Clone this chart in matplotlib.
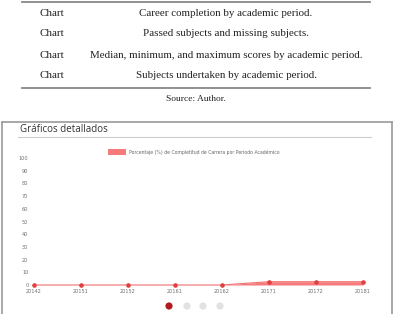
import matplotlib.pyplot as plt
from matplotlib.patches import Rectangle, Circle

# table content
row_kind = ['Chart', 'Chart', 'Chart', 'Chart']
row_desc = ['Career completion by academic period.',
            'Passed subjects and missing subjects.',
            'Median, minimum, and maximum scores by academic period.',
            'Subjects undertaken by academic period.']
source_text = 'Source: Author.'

# chart content
periods = ['20142', '20151', '20152', '20161', '20162', '20171', '20172', '20181']
completion = [0, 0, 0, 0, 0, 2.6, 2.6, 2.6]
legend_label = 'Porcentaje (%) de Completitud de Carrera por Periodo Académico'
panel_title = 'Gráficos detallados'

W, H = 393, 314
fig = plt.figure(figsize=(W / 100, H / 100), dpi=100)

# background axes in pixel coordinates for the page layout
bg = fig.add_axes([0, 0, 1, 1])
bg.set_xlim(0, W)
bg.set_ylim(H, 0)
bg.axis('off')

serif = 'Liberation Serif'
bg.plot([22, 370], [2, 2], color='#888888', lw=1.3)
bg.plot([22, 370], [88, 88], color='#888888', lw=1.3)
row_y = [14, 34, 55, 75]
for y, k, d in zip(row_y, row_kind, row_desc):
    bg.text(52, y, k, family=serif, fontsize=7.9, ha='center', va='center', color='#222222')
    bg.text(226, y, d, family=serif, fontsize=7.9, ha='center', va='center', color='#222222')
bg.text(196, 99, source_text, family=serif, fontsize=6.8, ha='center', va='center', color='#222222')

# screenshot frame
bg.plot([2, 2], [314, 122], color='#9a9a9a', lw=1.2)
bg.plot([2, 392], [122, 122], color='#9a9a9a', lw=1.2)
bg.plot([392, 392], [122, 314], color='#9a9a9a', lw=1.2)
bg.text(20, 129, panel_title, family='Open Sans', fontsize=7.0, ha='left', va='center', color='#333333')
bg.plot([18, 371], [137, 137], color='#cccccc', lw=0.8)

# legend
bg.add_patch(Rectangle((108, 149), 18, 6, facecolor='#f77b7b', edgecolor='none'))
bg.text(129, 152, legend_label, family='DejaVu Sans', fontsize=3.3, ha='left', va='center', color='#666666')

# pagination dots
bg.add_patch(Circle((169, 306), 3.6, facecolor='#b01c1c', edgecolor='none'))
for cx in [187, 203, 220]:
    bg.add_patch(Circle((cx, 306), 3.6, facecolor='#e2e2e2', edgecolor='none'))

# chart axes
ax = fig.add_axes([34 / W, 1 - 285 / H, (363 - 34) / W, (285 - 158) / H])
ax.patch.set_alpha(0)
x = list(range(len(periods)))
ax.fill_between(x, 0, completion, color='#f77b7b', lw=0)
ax.plot(x, completion, color='#f07070', lw=0.8)
ax.plot(x, completion, 'o', color='#e04040', markersize=2.3)
ax.set_xlim(0, len(periods) - 1)
ax.set_ylim(0, 100)
ax.set_yticks(range(0, 101, 10))
ax.set_xticks(x)
ax.set_xticklabels(periods)
for s in ax.spines.values():
    s.set_visible(False)
ax.tick_params(length=0, labelsize=3.6, colors='#707070')
ax.tick_params(axis='y', pad=4)
ax.tick_params(axis='x', pad=3)
for a in ax.get_children():
    try:
        a.set_clip_on(False)
    except Exception:
        pass

fig.savefig('out.png', dpi=100)
